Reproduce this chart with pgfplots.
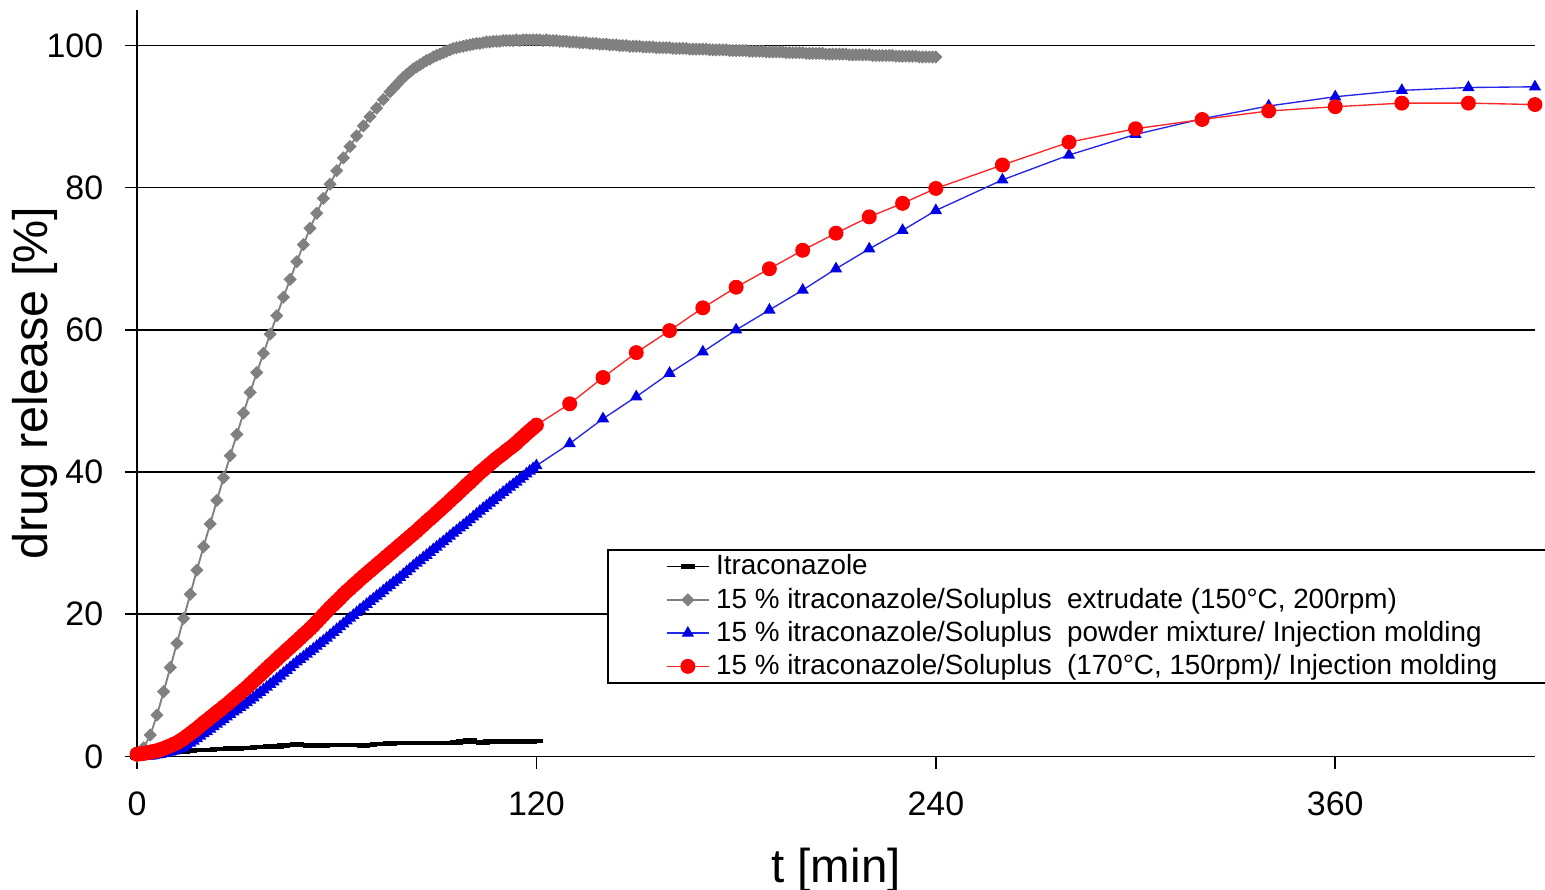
\documentclass[border=0pt]{standalone}
\usepackage{fontspec}
\setmainfont{Liberation Sans}
\usepackage{pgfplots}
\pgfplotsset{compat=1.18}

\definecolor{grayser}{RGB}{128,128,128}
\definecolor{redser}{RGB}{255,0,0}
\definecolor{blueser}{RGB}{0,0,230}

\begin{document}
\begin{tikzpicture}
\begin{axis}[
  scale only axis, width=14.48cm, height=7.73cm,
  xmin=0, xmax=420, ymin=0, ymax=105,
  xtick={0,120,240,360}, ytick={0,20,...,100},
  axis x line*=bottom, axis y line*=left,
  axis line style={-, black, line width=0.45pt},
  tick align=outside, major tick length=3.6pt,
  tick style={black, line width=0.45pt},
  ymajorgrids, grid style={black, line width=0.45pt},
  clip=false,
  /pgf/number format/assume math mode=true,
  tick label style={font=\fontsize{10}{12}\selectfont},
  xticklabel style={yshift=-0.12cm},
  yticklabel style={xshift=-0.1cm},
  xlabel={t [min]}, ylabel={drug release [\%]},
  every axis x label/.style={at={(axis description cs:0.5,-0.153)}, anchor=center,
    font=\fontsize{14}{16}\selectfont},
  every axis y label/.style={at={(axis description cs:-0.073,0.5)}, rotate=90, anchor=center,
    font=\fontsize{14.3}{16}\selectfont},
  legend cell align=left,
  legend image code/.code={\draw[mark repeat=2,mark phase=2,#1] plot coordinates {(0cm,0cm) (0.22cm,0cm) (0.44cm,0cm)};},
  legend style={at={(rel axis cs:0.3362,0.2775)}, anchor=north west,
    draw=black, line width=0.45pt, fill=white,
    inner xsep=0.6cm, inner ysep=0pt, column sep=0pt, row sep=0pt,
    font=\fontsize{8.2}{9.8}\selectfont,
    nodes={inner xsep=1.8pt, inner ysep=0pt, text height=7.3pt, text depth=2.5pt}},
]
% Itraconazole
\addplot[black, line width=0.5pt, mark=-, mark size=2pt, mark options={line width=1.3pt}] coordinates {
 (0,0.0)(2,0.1)(4,0.2)(6,0.3)(8,0.4)(10,0.5)(12,0.6)(14,0.7)(16,0.8)(18,0.85)
 (20,0.9)(22,0.9)(24,1.0)(26,1.0)(28,1.1)(30,1.1)(32,1.2)(34,1.2)(36,1.3)(38,1.3)
 (40,1.4)(42,1.4)(44,1.5)(46,1.6)(48,1.7)(50,1.6)(52,1.45)(54,1.5)(56,1.55)(58,1.6)
 (60,1.6)(62,1.6)(64,1.6)(66,1.6)(68,1.55)(70,1.6)(72,1.7)(74,1.75)(76,1.8)(78,1.85)
 (80,1.85)(82,1.85)(84,1.85)(86,1.85)(88,1.85)(90,1.9)(92,1.9)(94,1.9)(96,1.95)(98,2.1)
 (100,2.25)(102,2.0)(104,1.9)(106,2.1)(108,2.1)(110,2.1)(112,2.1)(114,2.1)(116,2.1)(118,2.1)(120,2.15)};
% extrudate 150C
\addplot[grayser, line width=0.55pt, mark=square*, mark size=1.1pt, mark options={rotate=45, fill=grayser, draw=grayser}] coordinates {
 (0,0)(2,1.2)(4,3.0)(6,5.8)(8,9.1)(10,12.5)(12,15.9)(14,19.4)(16,22.8)(18,26.2)
 (20,29.5)(22,32.7)(24,36.0)(26,39.2)(28,42.3)(30,45.3)(32,48.3)(34,51.2)(36,54.0)(38,56.7)
 (40,59.4)(42,62.0)(44,64.6)(46,67.1)(48,69.6)(50,72.0)(52,74.3)(54,76.4)(56,78.5)(58,80.5)
 (60,82.4)(62,84.2)(64,85.8)(66,87.3)(68,88.7)(70,90.0)(72,91.2)(74,92.4)(76,93.5)
 (77,94.0)(78,94.5)(79,95.0)(80,95.5)(81,95.9)(82,96.3)(83,96.7)(84,97.0)(85,97.3)(86,97.6)
 (87,97.9)(88,98.1)(89,98.4)(90,98.6)(91,98.8)(92,99.0)(93,99.2)(94,99.4)(95,99.6)(96,99.7)
 (97,99.8)(98,99.9)(99,100.0)(100,100.1)(101,100.2)(102,100.3)(103,100.3)(104,100.4)(105,100.5)(106,100.5)
 (107,100.6)(108,100.6)(109,100.6)(110,100.7)(111,100.7)(112,100.7)(113,100.7)(114,100.8)(115,100.7)(116,100.8)
 (117,100.8)(118,100.8)(119,100.8)(120,100.8)(121,100.8)(122,100.7)(123,100.8)(124,100.7)(125,100.7)(126,100.7)
 (127,100.6)(128,100.6)(129,100.6)(130,100.5)(131,100.5)(132,100.5)(133,100.4)(134,100.4)(135,100.4)(136,100.3)
 (137,100.3)(138,100.3)(139,100.2)(140,100.2)(141,100.2)(142,100.1)(143,100.1)(144,100.1)(145,100.0)(146,100.0)
 (147,100.0)(148,99.9)(149,99.9)(150,99.9)(151,99.9)(152,99.8)(153,99.8)(154,99.8)(155,99.8)(156,99.7)
 (157,99.7)(158,99.7)(159,99.7)(160,99.7)(161,99.6)(162,99.6)(163,99.6)(164,99.6)(165,99.6)(166,99.5)
 (167,99.5)(168,99.5)(169,99.5)(170,99.5)(171,99.5)(172,99.4)(173,99.4)(174,99.4)(175,99.4)(176,99.4)
 (177,99.4)(178,99.3)(179,99.3)(180,99.3)(181,99.3)(182,99.3)(183,99.3)(184,99.2)(185,99.2)(186,99.2)
 (187,99.2)(188,99.2)(189,99.1)(190,99.1)(191,99.1)(192,99.1)(193,99.1)(194,99.1)(195,99.0)(196,99.0)
 (197,99.0)(198,99.0)(199,99.0)(200,99.0)(201,98.9)(202,98.9)(203,98.9)(204,98.9)(205,98.9)(206,98.9)
 (207,98.8)(208,98.8)(209,98.8)(210,98.8)(211,98.8)(212,98.8)(213,98.8)(214,98.7)(215,98.7)(216,98.7)
 (217,98.7)(218,98.7)(219,98.7)(220,98.7)(221,98.6)(222,98.6)(223,98.6)(224,98.6)(225,98.6)(226,98.6)
 (227,98.6)(228,98.5)(229,98.5)(230,98.5)(231,98.5)(232,98.5)(233,98.5)(234,98.5)(235,98.4)(236,98.4)
 (237,98.4)(238,98.4)(239,98.4)(240,98.4)};
% powder mixture / IM
\addplot[blueser!85!white, line width=0.4pt, mark=triangle*, mark size=1.7pt, mark options={fill=blueser, draw=blueser}] coordinates {
 (0,0.00)(1,0.00)(2,0.00)(3,0.05)(4,0.05)(5,0.10)(6,0.20)(7,0.30)(8,0.40)(9,0.50)
 (10,0.60)(11,0.75)(12,0.90)(13,1.05)(14,1.20)(15,1.50)(16,1.85)(17,2.15)(18,2.50)(19,2.85)
 (20,3.20)(21,3.50)(22,3.85)(23,4.20)(24,4.55)(25,4.85)(26,5.20)(27,5.55)(28,5.90)(29,6.25)
 (30,6.55)(31,6.90)(32,7.20)(33,7.55)(34,7.90)(35,8.25)(36,8.65)(37,9.00)(38,9.35)(39,9.75)
 (40,10.15)(41,10.50)(42,10.90)(43,11.30)(44,11.70)(45,12.10)(46,12.50)(47,12.90)(48,13.30)(49,13.65)
 (50,14.00)(51,14.40)(52,14.75)(53,15.10)(54,15.50)(55,15.90)(56,16.25)(57,16.65)(58,17.05)(59,17.45)
 (60,17.85)(61,18.25)(62,18.65)(63,19.05)(64,19.45)(65,19.85)(66,20.25)(67,20.65)(68,21.00)(69,21.40)
 (70,21.80)(71,22.15)(72,22.55)(73,22.90)(74,23.30)(75,23.70)(76,24.05)(77,24.45)(78,24.80)(79,25.20)
 (80,25.60)(81,26.00)(82,26.40)(83,26.80)(84,27.20)(85,27.55)(86,27.95)(87,28.30)(88,28.70)(89,29.10)
 (90,29.45)(91,29.85)(92,30.20)(93,30.60)(94,31.00)(95,31.40)(96,31.75)(97,32.15)(98,32.50)(99,32.90)
 (100,33.30)(101,33.70)(102,34.10)(103,34.50)(104,34.90)(105,35.25)(106,35.65)(107,36.00)(108,36.40)(109,36.75)
 (110,37.15)(111,37.50)(112,37.90)(113,38.25)(114,38.60)(115,39.00)(116,39.35)(117,39.75)(118,40.15)(119,40.50)
 (120,40.90)(130,44.0)(140,47.5)(150,50.6)(160,53.9)(170,56.9)(180,60.0)(190,62.8)(200,65.6)(210,68.6)
 (220,71.4)(230,74.0)(240,76.8)(260,81.1)(280,84.6)(300,87.5)(320,89.7)(340,91.5)(360,92.8)(380,93.7)
 (400,94.1)(420,94.2)};
% 170C extrudate / IM
\addplot[redser!85!white, line width=0.4pt, mark=*, mark size=2.0pt, mark options={fill=redser, draw=redser}] coordinates {
 (0,0.30)(1,0.35)(2,0.40)(3,0.50)(4,0.60)(5,0.70)(6,0.80)(7,0.95)(8,1.10)(9,1.30)
 (10,1.50)(11,1.70)(12,1.90)(13,2.20)(14,2.50)(15,2.85)(16,3.20)(17,3.55)(18,3.90)(19,4.30)
 (20,4.70)(21,5.05)(22,5.45)(23,5.80)(24,6.20)(25,6.55)(26,6.95)(27,7.30)(28,7.70)(29,8.10)
 (30,8.50)(31,8.90)(32,9.30)(33,9.70)(34,10.15)(35,10.60)(36,11.00)(37,11.45)(38,11.90)(39,12.35)
 (40,12.80)(41,13.20)(42,13.65)(43,14.10)(44,14.50)(45,14.95)(46,15.35)(47,15.80)(48,16.20)(49,16.65)
 (50,17.10)(51,17.50)(52,17.95)(53,18.40)(54,18.90)(55,19.40)(56,19.90)(57,20.40)(58,20.90)(59,21.35)
 (60,21.80)(61,22.25)(62,22.75)(63,23.20)(64,23.60)(65,24.05)(66,24.45)(67,24.90)(68,25.30)(69,25.70)
 (70,26.10)(71,26.50)(72,26.90)(73,27.30)(74,27.70)(75,28.10)(76,28.50)(77,28.90)(78,29.30)(79,29.70)
 (80,30.10)(81,30.50)(82,30.90)(83,31.30)(84,31.70)(85,32.15)(86,32.55)(87,33.00)(88,33.40)(89,33.80)
 (90,34.25)(91,34.65)(92,35.10)(93,35.50)(94,35.95)(95,36.40)(96,36.80)(97,37.25)(98,37.70)(99,38.15)
 (100,38.55)(101,39.00)(102,39.45)(103,39.90)(104,40.30)(105,40.70)(106,41.10)(107,41.50)(108,41.90)(109,42.25)
 (110,42.60)(111,43.00)(112,43.35)(113,43.70)(114,44.10)(115,44.55)(116,44.95)(117,45.40)(118,45.80)(119,46.20)
 (120,46.60)(130,49.6)(140,53.3)(150,56.8)(160,59.9)(170,63.1)(180,66.0)(190,68.6)(200,71.2)(210,73.6)
 (220,75.9)(230,77.8)(240,79.9)(260,83.2)(280,86.4)(300,88.3)(320,89.6)(340,90.8)(360,91.4)(380,91.9)
 (400,91.9)(420,91.7)};
\legend{Itraconazole,
  {15 \% itraconazole/Soluplus~~extrudate (150°C, 200rpm)},
  {15 \% itraconazole/Soluplus~~powder mixture/ Injection molding},
  {15 \% itraconazole/Soluplus~~(170°C, 150rpm)/ Injection molding}}
\end{axis}
\pgfresetboundingbox
\path[use as bounding box] ([xshift=-1.419cm,yshift=-1.377cm]current axis.south west)
  rectangle ([xshift=0.104cm,yshift=0.104cm]current axis.north east);
\end{tikzpicture}
\end{document}
